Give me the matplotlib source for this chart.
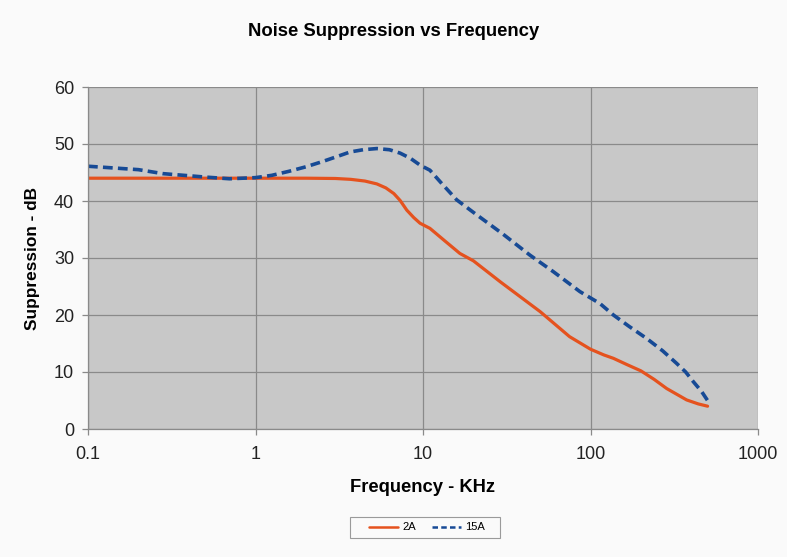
#!/usr/bin/env python3
"""Noise suppression vs frequency for the 2A and 15A filter variants"""

from matplotlib import pyplot as plt
from matplotlib.patches import Rectangle
from matplotlib.ticker import FixedLocator, FixedFormatter, NullLocator

plt.rcParams['font.family'] = ['Liberation Sans', 'DejaVu Sans']

# Values (frequency in KHz, suppression in dB)
freq_2a = [0.1, 0.3, 1, 2, 3.0, 3.7, 4.5, 5.3, 6.0, 6.7, 7.3, 8.0, 8.8, 9.6, 11,
           13.5, 16.6, 20, 29, 50, 75, 100, 120, 137, 165, 200, 240, 285, 375, 440, 500]
supp_2a = [44, 44, 44, 44, 43.95, 43.8, 43.5, 43.0, 42.3, 41.3, 40.1, 38.4, 37.1, 36.1, 35.2,
           33.0, 30.8, 29.5, 25.8, 20.6, 16.2, 14.0, 13.0, 12.4, 11.3, 10.2, 8.7, 7.1, 5.1, 4.4, 4.0]

freq_15a = [0.1, 0.2, 0.28, 0.5, 0.7, 1, 1.25, 1.58, 2.0, 2.5, 3.0, 3.67, 4.4, 5.3, 6.3,
            7.3, 8.4, 9.6, 11, 13, 15.9, 20, 30, 43.5, 60, 86.5, 114, 137, 170, 216,
            270, 327, 370, 411, 460, 500]
supp_15a = [46.1, 45.5, 44.8, 44.2, 43.9, 44.1, 44.5, 45.2, 46.0, 46.9, 47.7, 48.6, 49.0, 49.2, 49.0,
            48.4, 47.5, 46.3, 45.4, 43.0, 40.2, 38.0, 34.2, 30.5, 27.6, 24.1, 22.0, 20.0, 18.0, 15.9,
            13.7, 11.5, 10.0, 8.3, 6.6, 5.0]

x_ticks = [0.1, 1, 10, 100, 1000]
x_tick_labels = ["0.1", "1", "10", "100", "1000"]
y_ticks = [0, 10, 20, 30, 40, 50, 60]


def main():
    W, H = 787, 557
    fig = plt.figure(figsize=(W / 100, H / 100), dpi=100)
    fig.patch.set_facecolor("#fafafa")
    ax = fig.add_axes([88 / W, 1 - 429 / H, 670 / W, 342 / H])
    ax.set_facecolor("#c8c8c8")

    ax.plot(freq_2a, supp_2a, color="#e5521e", lw=2.3, solid_capstyle="round",
            solid_joinstyle="round", label="2A")
    ax.plot(freq_15a, supp_15a, color="#174a95", lw=2.6, dashes=(2.7, 1.45),
            dash_capstyle="butt", label="15A")

    # Log x axis with Excel-style labels
    ax.set_xscale("log")
    ax.set_xlim(0.1, 1000)
    ax.set_ylim(0, 60)
    ax.xaxis.set_major_locator(FixedLocator(x_ticks))
    ax.xaxis.set_major_formatter(FixedFormatter(x_tick_labels))
    ax.xaxis.set_minor_locator(NullLocator())
    ax.set_yticks(y_ticks)

    # Cosmetics
    ax.grid(True, color="#8a8a8a", lw=0.9)
    ax.set_axisbelow(True)
    for side in ("top", "right"):
        ax.spines[side].set_visible(False)
    for side in ("left", "bottom"):
        ax.spines[side].set_color("#8a8a8a")
        ax.spines[side].set_linewidth(0.9)
    ax.tick_params(axis="both", colors="#8a8a8a", length=4, width=0.9,
                   labelcolor="#222222", labelsize=13)
    ax.tick_params(axis="x", pad=8)
    ax.tick_params(axis="y", pad=6)

    ax.set_xlabel("Frequency - KHz", fontsize=13.2, fontweight="bold", labelpad=12)
    ax.set_ylabel("Suppression - dB", fontsize=12.4, fontweight="bold", labelpad=10)
    fig.text(0.5, 1 - 31.5 / H, "Noise Suppression vs Frequency", ha="center",
             va="center", fontsize=13.3, fontweight="bold")

    # Legend without its own frame; the box is drawn separately (wider side padding)
    leg = fig.legend(loc="center", bbox_to_anchor=(427 / W, 1 - 527.5 / H), ncol=2,
                     fontsize=8, frameon=False, handlelength=2.6, handletextpad=0.35,
                     columnspacing=1.5)
    for handle in leg.get_lines():
        handle.set_linewidth(1.8)
    leg.get_lines()[1].set_dashes((2.2, 1.3))
    fig.patches.append(Rectangle((350 / W, 1 - 538 / H), 150 / W, 21 / H,
                                 transform=fig.transFigure, facecolor="none",
                                 edgecolor="#9a9a9a", lw=0.8))

    fig.savefig("out.png", dpi=100, facecolor=fig.get_facecolor())


if __name__ == "__main__":
    main()
